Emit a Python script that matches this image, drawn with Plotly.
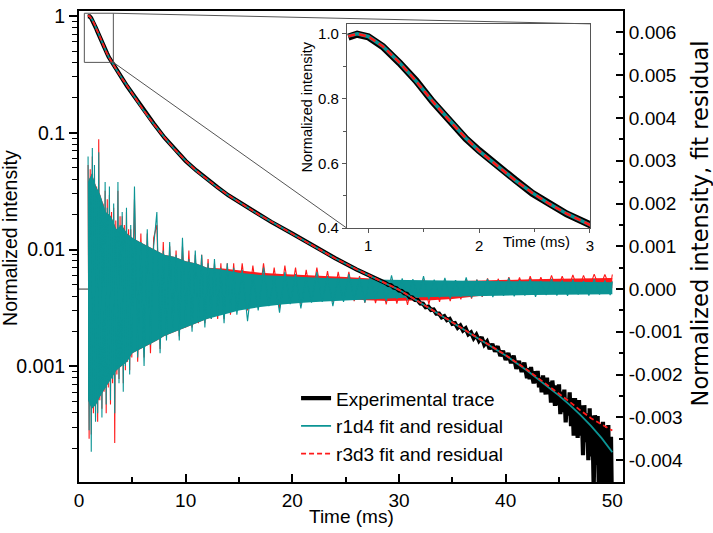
import math
import plotly.graph_objects as go

# ---------------- data ----------------
fit_t = [0.82, 0.9, 1.0, 1.13, 1.28, 1.43, 1.58, 1.73, 1.88, 2.0, 2.18, 2.33, 2.48, 2.63, 2.79, 3.0,
         3.5, 4.0, 4.5, 5.0, 6.0, 7.0, 8.0, 9.0, 10.0, 11.0, 12.0, 13.0, 14.0, 15.0, 16.0, 17.0,
         18.0, 20.0, 22.0, 24.0, 26.0, 28.0, 30.0, 32.0, 34.0, 36.0, 38.0, 40.0, 42.0, 44.0, 45.0,
         46.0, 47.0, 48.0, 49.0, 50.0]
r1d4_fit = [0.993, 1.0, 0.992, 0.962, 0.912, 0.855, 0.792, 0.733, 0.678, 0.639, 0.588, 0.547, 0.509,
            0.476, 0.445, 0.410, 0.348, 0.295, 0.252, 0.215, 0.158, 0.119, 0.0912, 0.0716, 0.0575,
            0.0473, 0.0398, 0.0339, 0.0292, 0.0254, 0.0223, 0.0196, 0.0174, 0.0136, 0.01067,
            0.00841, 0.00679, 0.00557, 0.00452, 0.00351, 0.00271, 0.00209, 0.00162, 0.00124,
            0.000923, 0.000668, 0.000562, 0.000468, 0.000385, 0.000309, 0.000243, 0.000184]
r3d3_fit = [0.993, 1.0, 0.992, 0.962, 0.912, 0.855, 0.792, 0.733, 0.678, 0.639, 0.588, 0.547, 0.509,
            0.476, 0.445, 0.410, 0.348, 0.295, 0.252, 0.215, 0.158, 0.119, 0.0912, 0.0716, 0.0575,
            0.0473, 0.0398, 0.0339, 0.0292, 0.0254, 0.0223, 0.0196, 0.0174, 0.0136, 0.01067,
            0.00841, 0.00679, 0.00557, 0.00452, 0.00351, 0.00271, 0.00209, 0.00162, 0.00125,
            0.000935, 0.000685, 0.000585, 0.000497, 0.000420, 0.000360, 0.000318, 0.000282]

exp_t = [0.82, 0.9, 1.0, 1.13, 1.28, 1.43, 1.58, 1.73, 1.88, 2.0, 2.18, 2.33, 2.48, 2.63, 2.79, 3.0,
         3.5, 4.0, 4.5, 5.0, 6.0, 7.0, 8.0, 9.0, 10.0, 11.0, 12.0, 13.0, 14.0, 15.0, 16.0, 17.0,
         18.0, 20.0, 22.0, 24.0, 26.0, 28.0,
         28.25, 28.5, 28.75, 29.0, 29.25, 29.5, 29.75, 30.0, 30.25, 30.5, 30.75, 31.0, 31.25, 31.5,
         31.75, 32.0, 32.25, 32.5, 32.75, 33.0, 33.25, 33.5, 33.75, 34.0, 34.25, 34.5, 34.75, 35.0,
         35.25, 35.5, 35.75, 36.0, 36.25, 36.5, 36.75, 37.0, 37.25, 37.5, 37.75, 38.0, 38.25, 38.5,
         38.75, 39.0, 39.25, 39.5, 39.75, 40.0, 40.25, 40.5, 40.75, 41.0, 41.25, 41.5, 41.75, 42.0,
         42.125, 42.25, 42.375, 42.5, 42.625, 42.75, 42.875, 43.0, 43.125, 43.25, 43.375, 43.5,
         43.625, 43.75, 43.875, 44.0, 44.125, 44.25, 44.375, 44.5, 44.625, 44.75, 44.875, 45.0,
         45.125, 45.25, 45.375, 45.5, 45.625, 45.75, 45.875, 46.0, 46.125, 46.25, 46.375, 46.5,
         46.625, 46.75, 46.875, 47.0, 47.125, 47.25, 47.375, 47.5, 47.625, 47.75, 47.875, 48.0,
         48.125, 48.25, 48.375, 48.5, 48.625, 48.75, 48.875, 49.0, 49.125, 49.25, 49.375, 49.5,
         49.625, 49.75, 49.875, 50.0]
exp_v = [0.990, 0.999, 0.991, 0.961, 0.911, 0.856, 0.791, 0.734, 0.677, 0.640, 0.587, 0.548, 0.508,
         0.477, 0.444, 0.411, 0.347, 0.296, 0.251, 0.216, 0.157, 0.120, 0.0910, 0.0718, 0.0573,
         0.0475, 0.0397, 0.0340, 0.0291, 0.0255, 0.0222, 0.0197, 0.0173, 0.0137, 0.01063, 0.00845,
         0.00676, 0.00560,
         0.005468, 0.005237, 0.005170, 0.004977, 0.004947, 0.004730, 0.004667, 0.004459, 0.004428,
         0.004221, 0.004169, 0.003911, 0.003887, 0.003696, 0.003690, 0.003457, 0.003436, 0.003208,
         0.003244, 0.003043, 0.003065, 0.002831, 0.002829, 0.002630, 0.002693, 0.002489, 0.002548,
         0.002310, 0.002343, 0.002140, 0.002238, 0.002029, 0.002114, 0.001881, 0.001950, 0.001740,
         0.001863, 0.001657, 0.001773, 0.001531, 0.001628, 0.001407, 0.001558, 0.001340, 0.001484,
         0.001229, 0.001356, 0.001135, 0.001299, 0.001065, 0.001233, 0.000952, 0.001112, 0.000895,
         0.001078, 0.000793,
         0.000965, 0.000777, 0.000989, 0.000811, 0.000714, 0.000908, 0.000721, 0.000915, 0.000660,
         0.000804, 0.000599, 0.000835, 0.000730, 0.000576, 0.000802, 0.000578, 0.000734, 0.000490,
         0.000756, 0.000553, 0.000460, 0.000687, 0.000464, 0.000702, 0.000389, 0.000607, 0.000405,
         0.000633, 0.000331, 0.000530, 0.000379, 0.000598, 0.000307, 0.000536, 0.000255, 0.000534,
         0.000344, 0.000244, 0.000514, 0.000255, 0.000465, 0.000174, 0.000465, 0.000225, 0.000396,
         0.000157, 0.000438, 0.000169, 0.000380, 0.000091, 0.000382, 0.000144, 0.000376, 0.000068,
         0.000320, 0.000093, 0.000335, 0.000047, 0.000299, 0.000052, 0.000315, 0.000030, 0.000250,
         0.000034]

# residuals, units of 1e-4: dense core envelope
band_t = [0.85, 1.2, 1.6, 2.0, 2.5, 3.0, 3.5, 4.0, 4.5, 5.0, 5.7, 6.5, 7.3, 8.0, 9.0, 10.0, 11.0,
          12.0, 13.5, 15.0, 17.0, 19.0, 21.0, 23.0, 25.0, 27.0, 29.0, 31.0, 33.0, 35.0, 37.5, 40.0,
          42.5, 45.0, 47.5, 50.0]
r1d4_core_hi = [25, 27, 24, 22, 18, 17, 14, 15, 13, 12, 11, 10, 9, 8, 7.5, 6.5, 6, 5, 4.5, 3.8, 3.3,
                3, 2.8, 2.6, 2.4, 2.3, 2.2, 2.1, 2.1, 2.0, 1.9, 1.8, 1.8, 1.7, 1.7, 1.6]
r1d4_core_lo = [-26, -28, -27, -25, -23, -21, -19, -18, -17, -15, -14, -13, -12, -11, -10, -9, -8,
                -7, -6, -5, -4.2, -3.6, -3.2, -2.9, -2.6, -2.4, -2.2, -2.0, -1.9, -1.8, -1.6, -1.5,
                -1.4, -1.3, -1.2, -1.2]
r3d3_core_hi = [25, 27, 24, 22, 18, 17, 14, 15, 13, 12, 11, 10, 9, 8, 7.5, 6.5, 6, 5, 4.8, 4.3, 3.8,
                3.5, 3.3, 3.0, 2.8, 2.5, 2.0, 1.8, 1.7, 1.8, 2.0, 2.2, 2.3, 2.4, 2.5, 2.6]
r3d3_core_lo = [-26, -28, -27, -25, -23, -21, -19, -18, -17, -15, -14, -13, -12, -11, -10, -9, -8,
                -7, -5.5, -4.5, -3.5, -2.8, -2.5, -2.3, -2.3, -2.6, -2.8, -2.7, -2.6, -2.3, -1.6,
                -1.0, -0.6, -0.3, 0.0, 0.2]

# residual noise (units of 1e-4)
spike_t = [0.85, 0.95, 1.05, 1.15, 1.25, 1.35, 1.45, 1.55, 1.65, 1.75, 1.85, 1.95, 2.05, 2.15, 2.25,
           2.35, 2.45, 2.55, 2.65, 2.75, 2.85, 2.95, 3.05, 3.15, 3.25, 3.35, 3.45, 3.55, 3.65, 3.75,
           3.85, 3.95, 4.05, 4.15, 4.25, 4.35, 4.45, 4.55, 4.65, 4.75, 4.85, 4.95,
           5.2, 5.5, 5.8, 6.1, 6.4, 6.7, 7.0, 7.3, 7.6, 7.9, 8.2, 8.5, 8.8, 9.1, 9.4, 9.7, 10.0,
           10.3, 10.6, 10.9, 11.2, 11.5, 11.8, 12.1, 12.4, 12.7, 13.0, 13.3, 13.6, 13.9, 14.2, 14.5,
           14.8,
           15.3, 15.8, 16.3, 16.8, 17.3, 17.8, 18.3, 18.8, 19.3, 19.8, 20.3, 20.8, 21.3, 21.8, 22.3,
           22.8, 23.3, 23.8, 24.3, 24.8, 25.3, 25.8, 26.3, 26.8, 27.3, 27.8, 28.3, 28.8, 29.3, 29.8,
           30.3, 30.8, 31.3, 31.8, 32.3, 32.8, 33.3, 33.8, 34.3, 34.8, 35.3, 35.8, 36.3, 36.8, 37.3,
           37.8, 38.3, 38.8, 39.3, 39.8, 40.3, 40.8, 41.3, 41.8, 42.3, 42.8, 43.3, 43.8, 44.3, 44.8,
           45.3, 45.8, 46.3, 46.8, 47.3, 47.8, 48.3, 48.8, 49.3, 49.8, 50.0]
r1d4_resid = [31, -33, 26, -38, 33, -27, 29, -31, 22, -29, 32, -25, 21, -30, 18, -23, 25, -27, 19,
              -22, 24, -26, 16, -21, 20, -29, 14, -19, 25, -22, 15, -17, 18, -24, 13, -18, 19, -16,
              12, -20, 15, -15,
              24, -16, 11, -18, 14, -13, 10, 18, -15, 9, -12, 11, -9, 8, -12, 12, -8, 7, -10, 9, -7,
              8, -9, 6, -7, 7, -6, 5, -8, 6, -5, 5, -6,
              4.5, -7.5, 3.5, -5, 5, -4, 3, -5.5, 4, -3.5, 3.5, -4.5, 2.8, -3.2, 4, -3, 3, -4, 2.5,
              -3, 3.5, -2.6, 2.7, -3.2, 3, -2.4, 2.4, -2.8, 3.2, -2.3, 2.5, -2.6, 2.3, -2.1, 3,
              -2.4, 2.2, -2, 2.6, -2.2, 2.1, -1.8, 2.7, -2, 2.2, -1.7, 2.4, -1.9, 2, -1.6, 2.6,
              -1.7, 2.1, -1.5, 2.3, -1.8, 1.9, -1.4, 2.4, -1.5, 2, -1.6, 2.2, -1.3, 1.9, -1.5, 2.3,
              -1.3, 2, -1.4, 1.8]
r3d3_resid = [29, -35, 28, -34, 31, -29, 27, -30, 24, -31, 35, -26, 20, -28, 20, -24, 23, -29, 21,
              -23, 22, -27, 18, -22, 19, -36, 16, -20, 23, -21, 17, -18, 17, -22, 15, -19, 18, -17,
              14, -19, 14, -16,
              21, -17, 13, -16, 13, -15, 12, 15, -14, 11, -11, 10, -10, 9, -11, 10, -9, 9, -9, 8, -8,
              8, -8, 7, -7, 6, -7, 6, -7, 6, -6, 6, -5,
              6, -5, 5.5, -4, 6, -3.5, 5, -4.5, 5.5, -3, 5, -3.5, 4.5, -2.8, 5, -2.6, 4.2, -3, 4,
              -2.5, 4, -2.8, 3, -3.2, 2.6, -3.3, 2, -3.6, 2.2, -3.4, 1.8, -3.7, 2, -3.3, 2.2, -3.5,
              1.8, -3, 2.2, -2.8, 2, -2.4, 2.3, -2.2, 2.2, -1.8, 2.5, -1.5, 2.4, -1.2, 2.8, -1, 2.7,
              -0.9, 3, -0.7, 2.8, -0.6, 3.2, -0.4, 3, -0.3, 3.3, -0.2, 3.2, 0, 3.5, 0.2, 3.4, 0.3,
              3.4]

# tick labels
x_ticks = [0, 10, 20, 30, 40, 50]
log_tick_vals = [1, 0.1, 0.01, 0.001]
log_tick_text = ["1", "0.1", "0.01", "0.001"]
res_tick_vals = [0.006, 0.005, 0.004, 0.003, 0.002, 0.001, 0.0, -0.001, -0.002, -0.003, -0.004]
res_tick_text = ["0.006", "0.005", "0.004", "0.003", "0.002", "0.001", "0.000",
                 "-0.001", "-0.002", "-0.003", "-0.004"]
inset_x_ticks = [1, 2, 3]
inset_y_ticks = [0.4, 0.6, 0.8, 1.0]
inset_y_text = ["0.4", "0.6", "0.8", "1.0"]

assert len(exp_t) == len(exp_v)
assert len(spike_t) == len(r1d4_resid) == len(r3d3_resid)
assert len(fit_t) == len(r1d4_fit) == len(r3d3_fit)

# ---------------- layout constants ----------------
FONT = "Liberation Sans, Arial, sans-serif"
TEAL = "#0b9494"
RED = "#ff1a1a"
GRAY = "#555555"
X_RANGE = [0, 51]
YLOG_RANGE = [-3.99, 0.042]
YRES_RANGE = [-0.00451, 0.0065]
IN_XD = [0.4926, 0.9393]
IN_YD = [0.5388, 0.9727]
IN_XR = [0.808, 3.0]
IN_YR = [0.4, 1.031]
ZOOM_X = [0.5, 3.22]
ZOOM_Y = [0.40, 1.054]
S = 1e-4

fig = go.Figure()

def band(t, hi, lo):
    return t + t[::-1], [v * S for v in hi] + [v * S for v in lo[::-1]]

for hi, lo, noise, col in [(r3d3_core_hi, r3d3_core_lo, r3d3_resid, RED),
                           (r1d4_core_hi, r1d4_core_lo, r1d4_resid, TEAL)]:
    bx, by = band(band_t, hi, lo)
    fig.add_trace(go.Scatter(x=bx, y=by, fill="toself", fillcolor=col, mode="lines",
                             line=dict(width=0, color=col), showlegend=False,
                             xaxis="x", yaxis="y", hoverinfo="skip"))
    fig.add_trace(go.Scatter(x=spike_t, y=[v * S for v in noise], mode="lines",
                             line=dict(width=1.1, color=col), showlegend=False,
                             xaxis="x", yaxis="y", hoverinfo="skip"))

fig.add_trace(go.Scatter(x=exp_t, y=exp_v, mode="lines", name="Experimental trace",
                         line=dict(color="black", width=4.2), xaxis="x", yaxis="y2"))
fig.add_trace(go.Scatter(x=fit_t, y=r1d4_fit, mode="lines", name="r1d4 fit and residual",
                         line=dict(color=TEAL, width=1.8), xaxis="x", yaxis="y2"))
fig.add_trace(go.Scatter(x=fit_t, y=r3d3_fit, mode="lines", name="r3d3 fit and residual",
                         line=dict(color=RED, width=1.8, dash="5px,3px"), xaxis="x", yaxis="y2"))

fig.add_trace(go.Scatter(x=exp_t, y=exp_v, mode="lines", showlegend=False,
                         line=dict(color="black", width=7), xaxis="x3", yaxis="y3"))
fig.add_trace(go.Scatter(x=fit_t, y=r1d4_fit, mode="lines", showlegend=False,
                         line=dict(color=TEAL, width=3.5), xaxis="x3", yaxis="y3"))
fig.add_trace(go.Scatter(x=fit_t, y=r3d3_fit, mode="lines", showlegend=False,
                         line=dict(color=RED, width=2.5, dash="7px,4px"), xaxis="x3", yaxis="y3"))

log_minor = [d * 10 ** e for e in range(-4, 0) for d in range(2, 10)]
res_minor = [-0.0045, -0.0035, -0.0025, -0.0015, -0.0005, 0.0005, 0.0015, 0.0025, 0.0035,
             0.0045, 0.0055, 0.0065]

def px_x(v):
    return (v - X_RANGE[0]) / (X_RANGE[1] - X_RANGE[0])

def py_log(v):
    return (math.log10(v) - YLOG_RANGE[0]) / (YLOG_RANGE[1] - YLOG_RANGE[0])

shapes = [
    dict(type="line", xref="x", yref="y", x0=X_RANGE[0], x1=spike_t[0], y0=0, y1=0,
         layer="below", line=dict(color="#333333", width=1)),
    dict(type="rect", xref="x", yref="y2", x0=ZOOM_X[0], x1=ZOOM_X[1], y0=ZOOM_Y[0], y1=ZOOM_Y[1],
         line=dict(color=GRAY, width=1)),
    dict(type="line", xref="paper", yref="paper", x0=px_x(ZOOM_X[1]), y0=py_log(ZOOM_Y[1]),
         x1=IN_XD[1], y1=IN_YD[1], line=dict(color=GRAY, width=1)),
    dict(type="line", xref="paper", yref="paper", x0=px_x(ZOOM_X[1]), y0=py_log(ZOOM_Y[0]),
         x1=IN_XD[0], y1=IN_YD[0], line=dict(color=GRAY, width=1)),
]

annotations = [
    dict(text="Normalized intensity", xref="paper", yref="paper", x=-0.127, y=0.518,
         xanchor="center", yanchor="middle", textangle=-90, showarrow=False,
         font=dict(size=19.5, family=FONT, color="black")),
    dict(text="Normalized intensity, fit residual", xref="paper", yref="paper", x=1.1415, y=0.549,
         xanchor="center", yanchor="middle", textangle=-90, showarrow=False,
         font=dict(size=22.5, family="DejaVu Sans, sans-serif", color="black")),
    dict(text="Time (ms)", xref="paper", yref="paper", x=0.5, y=-0.0734,
         xanchor="center", yanchor="middle", showarrow=False,
         font=dict(size=19, family=FONT, color="black")),
    dict(text="Normalized intensity", xref="paper", yref="paper", x=0.419, y=0.797,
         xanchor="center", yanchor="middle", textangle=-90, showarrow=False,
         font=dict(size=14.5, family=FONT, color="black")),
    dict(text="Time (ms)", xref="x3", yref="paper", x=2.52, y=IN_YD[0], xanchor="center",
         yanchor="middle", yshift=-13, showarrow=False,
         font=dict(size=15, family=FONT, color="black")),
]

fig.update_layout(
    width=713, height=533,
    margin=dict(l=79, r=90, t=5, b=51),
    paper_bgcolor="white", plot_bgcolor="white",
    font=dict(family=FONT, size=19, color="black"),
    showlegend=True,
    legend=dict(x=0.399, y=0.218, xanchor="left", yanchor="top", bgcolor="rgba(0,0,0,0)",
                font=dict(size=19, family=FONT), tracegroupgap=0),
    xaxis=dict(domain=[0, 1], range=X_RANGE, tickvals=x_ticks, ticks="inside", ticklen=8,
               tickwidth=1.5, tickcolor="black", showline=True, linewidth=2, linecolor="black",
               mirror=True, showgrid=False, zeroline=False, anchor="y",
               minor=dict(tickvals=[5, 15, 25, 35, 45], ticks="inside", ticklen=5,
                          tickcolor="black", tickwidth=1.5),
               tickfont=dict(size=19)),
    yaxis=dict(domain=[0, 1], range=YRES_RANGE, side="right", anchor="x", tickvals=res_tick_vals,
               ticktext=res_tick_text, ticks="inside", ticklen=7, tickwidth=1.5, tickcolor="black",
               showline=True, linewidth=2, linecolor="black", showgrid=False, zeroline=False,
               minor=dict(tickvals=res_minor, ticks="inside", ticklen=4, tickcolor="black",
                          tickwidth=1.5),
               tickfont=dict(size=19)),
    yaxis2=dict(type="log", range=YLOG_RANGE, side="left", overlaying="y", anchor="x",
                tickvals=log_tick_vals, ticktext=log_tick_text, ticks="outside", ticklen=8,
                tickwidth=1.5, tickcolor="black", showline=True, linewidth=2, linecolor="black",
                showgrid=False, zeroline=False,
                minor=dict(tickvals=log_minor, ticks="outside", ticklen=5, tickcolor="black",
                           tickwidth=1.2),
                tickfont=dict(size=19.5)),
    xaxis3=dict(domain=IN_XD, range=IN_XR, anchor="y3", tickvals=inset_x_ticks, ticks="outside",
                ticklen=4, tickcolor=GRAY, showline=True, linecolor=GRAY, linewidth=1,
                mirror=True, showgrid=False, zeroline=False,
                minor=dict(tickvals=[1.5, 2.5], ticks="outside", ticklen=3, tickcolor=GRAY),
                tickfont=dict(size=15)),
    yaxis3=dict(domain=IN_YD, range=IN_YR, anchor="x3", tickvals=inset_y_ticks,
                ticktext=inset_y_text, ticks="outside", ticklen=4, tickcolor=GRAY,
                showline=True, linecolor=GRAY, linewidth=1, mirror=True, showgrid=False,
                zeroline=False,
                minor=dict(tickvals=[0.5, 0.7, 0.9], ticks="outside", ticklen=3, tickcolor=GRAY),
                tickfont=dict(size=15)),
    shapes=shapes,
    annotations=annotations,
)

fig.write_html("out.html", config={"displayModeBar": False},
               post_script="document.body.style.margin='0px';")
